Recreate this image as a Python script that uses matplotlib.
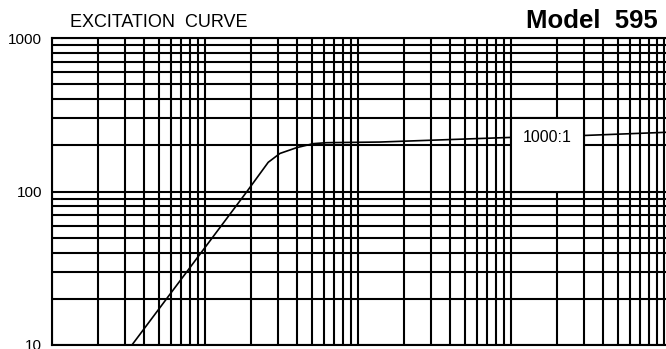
import matplotlib
matplotlib.use('Agg')
import matplotlib.pyplot as plt
from matplotlib.ticker import LogLocator, NullFormatter
from matplotlib.patches import Rectangle

# Excitation curve (log-log)
current = [3.33, 18.8, 25.9, 30.9, 39.7, 51.0, 62.4, 139, 985, 3090, 10300]
voltage = [10, 100, 155, 177, 193, 205, 208, 210, 225, 232, 243]

ratio_label = '1000:1'
label_box_x = [1000, 3000]
label_box_y = [100, 300]

y_ticks = [10, 100, 1000]
y_tick_labels = ['10', '100', '1000']

plt.rcParams['font.family'] = ['Liberation Sans', 'DejaVu Sans']

fig = plt.figure(figsize=(6.66, 3.49), dpi=100)
ax = fig.add_axes([52 / 666, 4 / 349, 1 - 52 / 666, (345 - 38) / 349])

ax.set_xscale('log')
ax.set_yscale('log')
ax.set_xlim(1, 10 ** (614 / 153))
ax.set_ylim(10, 1000)

# grid of decades and 2..9 subdivisions
for axis in (ax.xaxis, ax.yaxis):
    axis.set_major_locator(LogLocator(base=10))
    axis.set_minor_locator(LogLocator(base=10, subs=range(2, 10)))
    axis.set_minor_formatter(NullFormatter())
ax.set_axisbelow(True)
ax.grid(which='both', color='black', linewidth=1.5)

ax.set_yticks(y_ticks)
ax.set_yticklabels(y_tick_labels)
ax.xaxis.set_major_formatter(NullFormatter())
ax.tick_params(which='both', length=0)
ax.tick_params(axis='y', labelsize=11, pad=7)

for side in ['left', 'top', 'bottom']:
    ax.spines[side].set_linewidth(1.5)
ax.spines['right'].set_visible(False)

# the curve
ax.plot(current, voltage, color='black', linewidth=1.2, zorder=2)

# white label cell over the curve
box = Rectangle((label_box_x[0], label_box_y[0]),
                label_box_x[1] - label_box_x[0], label_box_y[1] - label_box_y[0],
                facecolor='white', edgecolor='black', linewidth=1.5, zorder=3)
ax.add_patch(box)
ax.text((label_box_x[0] * label_box_x[1]) ** 0.5, 225, ratio_label,
        ha='center', va='center', fontsize=11.5, zorder=4)

fig.text(70 / 666, 1 - 27 / 349, 'EXCITATION  CURVE', fontsize=13,
         ha='left', va='baseline')
fig.text(658 / 666, 1 - 28 / 349, 'Model  595', fontsize=18.5, fontweight='bold',
         ha='right', va='baseline')

fig.savefig('out.png', dpi=100)
